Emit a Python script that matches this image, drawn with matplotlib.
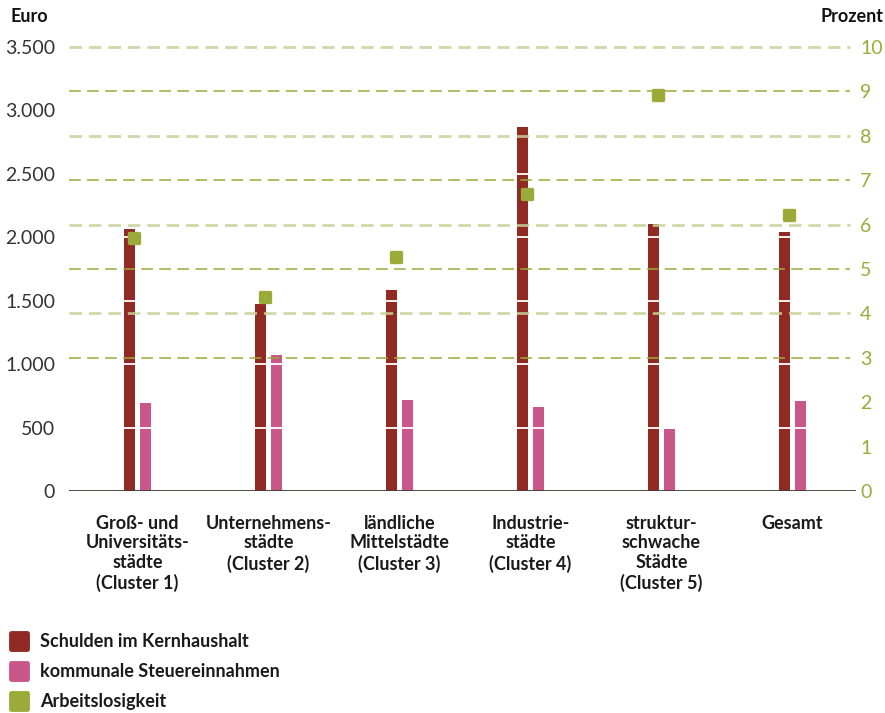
import matplotlib
matplotlib.use("Agg")
import matplotlib.pyplot as plt
from matplotlib.markers import MarkerStyle
from matplotlib.lines import Line2D
import numpy as np

plt.rcParams['font.family'] = ['Lato', 'DejaVu Sans']

categories = ["Groß- und\nUniversitäts-\nstädte\n(Cluster 1)",
              "Unternehmens-\nstädte\n(Cluster 2)",
              "ländliche\nMittelstädte\n(Cluster 3)",
              "Industrie-\nstädte\n(Cluster 4)",
              "struktur-\nschwache\nStädte\n(Cluster 5)",
              "Gesamt"]
schulden = [2065, 1475, 1585, 2870, 2105, 2045]
steuern = [695, 1070, 715, 662, 490, 707]
arbeitslos = [5.7, 4.38, 5.26, 6.7, 8.93, 6.22]

left_ticks = [0, 500, 1000, 1500, 2000, 2500, 3000, 3500]
left_labels = ["0", "500", "1.000", "1.500", "2.000", "2.500", "3.000", "3.500"]
right_ticks = list(range(0, 11))

RED = "#922a24"
PINK = "#c9578a"
GREEN = "#9aab3a"
LIGHTGREEN = "#c8d199"

fig = plt.figure(figsize=(8.85, 7.13), dpi=100)
ax = fig.add_axes([69/885, 1-491/713, (856-69)/885, (491-47)/713])
ax2 = ax.twinx()

x = np.arange(len(categories))
w = 0.084
off = 0.061
ax.bar(x - off, schulden, width=w, color=RED, zorder=2)
ax.bar(x + off, steuern, width=w, color=PINK, zorder=2)
# white separator lines on bars at left ticks
for t in left_ticks[1:]:
    ax.axhline(t, color="white", lw=1.3, zorder=3)
ax.axhline(0, color="#3d3d2e", lw=2, zorder=4)

ax.set_ylim(0, 3500)
ax.set_xlim(-0.523, 5.485)
ax.set_yticks(left_ticks)
ax.set_yticklabels(left_labels)
ax.set_xticks(x)
ax.set_xticklabels(categories, fontsize=13, fontweight='bold', color="#1a1a1a", linespacing=1.2)
ax.tick_params(axis='x', length=0, pad=17)
ax.tick_params(axis='y', length=0, labelsize=14, labelcolor="#333333", pad=10)
for s in ax.spines.values():
    s.set_visible(False)

ax2.set_ylim(0, 10)
ax2.set_yticks(right_ticks)
ax2.tick_params(axis='y', length=0, labelsize=14, labelcolor=GREEN, pad=3)
for s in ax2.spines.values():
    s.set_visible(False)
ax2.patch.set_visible(False)
ax.set_zorder(1)
ax2.set_zorder(2)

xmin, xmax = ax.get_xlim()
for v in [4, 6, 8, 10]:
    ax2.plot([xmin, 5.44], [v, v], color=LIGHTGREEN, lw=2, ls=(0, (4.5, 2.5)), alpha=0.85, zorder=1, clip_on=False)
for v in [3, 5, 7, 9]:
    ax2.plot([xmin, 5.44], [v, v], color=GREEN, lw=1.3, ls=(0, (6.5, 3.5)), alpha=0.85, zorder=1, clip_on=False)
ax2.set_xlim(xmin, xmax)

mk = MarkerStyle('s', joinstyle='round')
ax2.plot(x - 0.03, arbeitslos, ls='', marker=mk, ms=7.5, mew=2.4, color=GREEN, mec=GREEN, zorder=5)

fig.text(10/885, 1-17/713, "Euro", fontsize=13, fontweight='bold', va='center', ha='left', color="#111111")
fig.text(883/885, 1-17/713, "Prozent", fontsize=13, fontweight='bold', va='center', ha='right', color="#111111")

handles = [Line2D([], [], ls='', marker=mk, ms=12, mew=3.5, color=c, mec=c) for c in (RED, PINK, GREEN)]
labels = ["Schulden im Kernhaushalt", "kommunale Steuereinnahmen", "Arbeitslosigkeit"]
leg = fig.legend(handles, labels, loc='upper left', bbox_to_anchor=(3/885, 1-628/713), frameon=False,
                 fontsize=13, handlelength=1.2, handletextpad=0.55, labelspacing=0.72, borderaxespad=0, borderpad=0.3)
for t in leg.get_texts():
    t.set_fontweight('bold')
    t.set_color("#1a1a1a")

fig.savefig("out.png", dpi=100)
